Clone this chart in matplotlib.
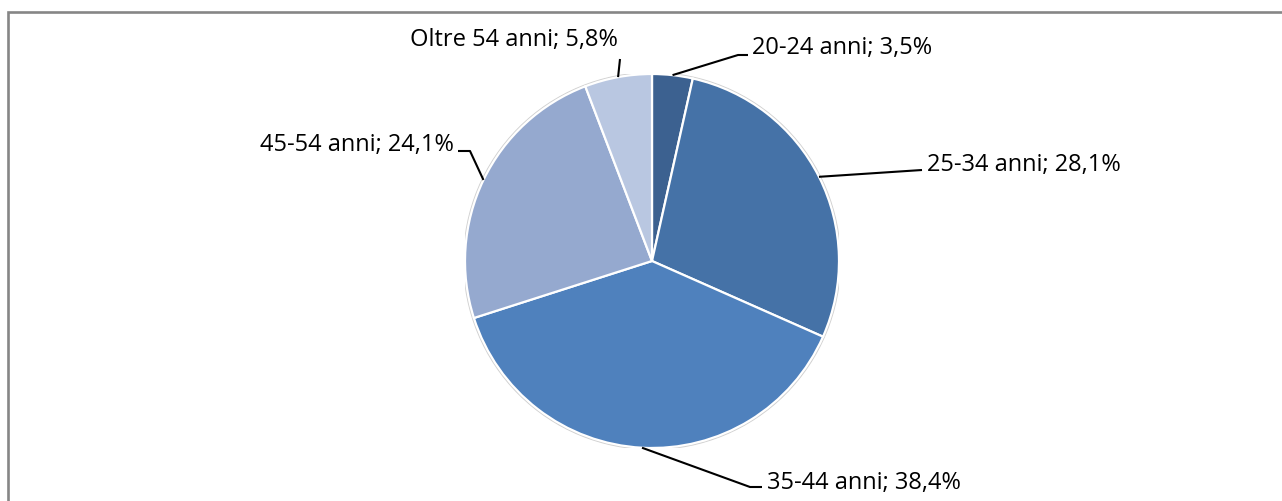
import numpy as np
import matplotlib
matplotlib.use("Agg")
import matplotlib.pyplot as plt
from matplotlib.patches import Rectangle

# data
labels = ["20-24 anni", "25-34 anni", "35-44 anni", "45-54 anni", "Oltre 54 anni"]
values = [3.5, 28.1, 38.4, 24.1, 5.8]
colors = ["#3C6190", "#4572A7", "#4F81BD", "#95A9CF", "#B9C7E1"]

# label layout, in pixels: (elbow, line end, text anchor, ha)
W, H = 1282, 502
CX, CY, R = 652, 262, 187
label_pos = [
    ((738, 56), (748, 56), (752, 48), "left"),
    (None, (922, 171), (927, 165), "left"),
    ((750, 488), (762, 488), (767, 483), "left"),
    ((470, 152), (458, 152), (454, 145), "right"),
    (None, (620, 60), (514, 40), "center"),
]

def to_data(p):
    return ((p[0] - CX) / R, (CY - p[1]) / R)

fig = plt.figure(figsize=(W / 100, H / 100), dpi=100)
fig.patch.set_facecolor("white")

# chart frame (runs off the right and bottom edge)
fig.patches.append(Rectangle((8 / W, -0.1), 1.2, (H - 13) / H + 0.1,
                             transform=fig.transFigure, fill=False,
                             edgecolor="#868686", linewidth=1.9))

ax = fig.add_axes([(CX - R) / W, (H - CY - R) / H, 2 * R / W, 2 * R / H])
ax.axis("off")

# faint outline like the excel shadow
ax.add_patch(plt.Circle((0, 0), 1.005, color="#d0d0d0", fill=False, lw=1.5))

wedges, _ = ax.pie(values, colors=colors, startangle=90, counterclock=False,
                   radius=1, wedgeprops=dict(edgecolor="white", linewidth=1.6))
ax.set_xlim(-1, 1)
ax.set_ylim(-1, 1)

total = sum(values)
cum = 0
for lab, v, lp in zip(labels, values, label_pos):
    mid = 90 - (cum + v / 2) / total * 360
    cum += v
    ang = np.deg2rad(mid)
    pts = [(np.cos(ang), np.sin(ang))]
    elbow, end, txt, ha = lp
    if elbow is not None:
        pts.append(to_data(elbow))
    pts.append(to_data(end))
    xs, ys = zip(*pts)
    ax.plot(xs, ys, color="black", lw=1.5, clip_on=False, solid_capstyle="butt")
    tx, ty = to_data(txt)
    ax.text(tx, ty, "%s; %s%%" % (lab, ("%.1f" % v).replace(".", ",")),
            ha=ha, va="center", fontsize=17, family=["Open Sans", "DejaVu Sans"],
            color="black", clip_on=False)

fig.savefig("out.png", dpi=100, facecolor="white")
